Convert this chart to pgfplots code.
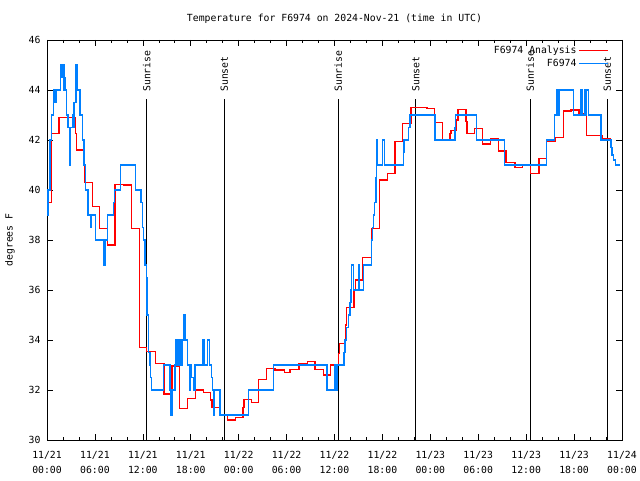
\documentclass[border=0pt]{standalone}
\usepackage{fontspec}
\setmainfont{DejaVu Sans Mono}
\usepackage{pgfplots}
\usepackage{pgfplotstable}
\pgfplotsset{compat=1.18}
\definecolor{obsblue}{RGB}{0,128,255}
\definecolor{anared}{RGB}{255,0,0}

\pgfplotstableread{
h t
0 39.5
0.55 42.25
1.5 42.9
3.6 42.25
3.72 41.6
4.72 40.3
5.68 39.35
6.55 38.47
7.55 37.8
8.52 40.23
9.55 40.2
10.56 38.45
11.56 33.7
12.48 33.53
13.6 33.07
14.65 31.84
15.65 32.96
16.57 31.27
17.57 31.67
18.57 32.0
19.57 31.9
20.5 31.6
20.66 31.3
21.66 31.03
22.58 30.8
23.58 30.9
24.55 31.3
24.65 31.63
25.6 31.5
26.46 32.43
27.5 32.87
28.55 32.8
29.7 32.7
30.43 32.83
31.55 33.07
32.6 33.13
33.56 32.83
34.6 32.6
35.52 33.0
36.5 33.47
36.6 33.87
37.4 34.6
37.5 35.3
38.44 36.0
38.6 36.4
39.53 37.3
40.66 38.47
41.6 40.4
42.6 40.67
43.58 41.93
44.54 42.67
45.58 43.3
47.6 43.27
48.5 42.7
49.5 42.03
50.47 42.27
50.6 42.37
51.3 42.8
51.45 43.23
52.47 42.73
52.6 42.27
53.5 42.47
54.55 41.84
55.55 42.07
56.5 41.56
57.47 41.1
58.6 40.9
59.5 41.03
60.56 40.67
61.6 41.27
62.57 41.93
63.6 42.1
64.65 43.16
65.6 43.2
66.6 43.07
67.58 42.17
69.5 42.07
70.6 42.07
}\analysis

\pgfplotstableread{
h t
0 39
0.125 40
0.376 42
0.54 43
0.79 44
0.9 43.5
1.0 44
1.1 43.5
1.13 44
1.71 45
1.88 44.5
1.96 45
2.13 44
2.21 44.5
2.34 44
2.46 43
2.63 42.5
2.84 41
2.96 42.5
3.17 43
3.3 42.5
3.38 43.5
3.63 45
3.84 44
4.13 43
4.42 42
4.63 41
4.84 40
5.13 39
5.47 38.5
5.59 39
6.09 38
7.14 37
7.26 38
7.55 39
8.3 39.5
8.47 40
9.22 41
11.1 40
11.77 39.5
11.94 38.5
12.06 38
12.27 37
12.44 36.5
12.52 35
12.69 33.5
12.9 33
13.0 32.5
13.05 32
14.57 33
15.4 32
15.53 31
15.74 32
16.03 33
16.15 34
16.25 33
16.35 34
16.45 33
16.55 34
16.65 33
16.75 34
16.85 33
16.95 34
17.15 35
17.36 34
17.61 33
17.82 32
17.99 33
18.11 32.5
18.32 32
18.53 33
19.45 34
19.66 33
20.12 34
20.33 33
20.62 32.5
20.75 32
20.83 31
20.95 32
21.65 31
25.2 32
28.34 33
35.05 32
36.06 33
36.15 32.5
36.22 33
36.3 32
36.36 33
37.19 33.5
37.32 34
37.52 34.5
37.73 35
37.94 35.5
38.06 36
38.15 37
38.36 36
38.98 37
39.11 36
39.61 37
40.65 38
40.78 38.5
40.9 39
40.99 39.5
41.2 40.5
41.28 42
41.41 41
41.99 42
42.24 41
44.62 41.5
44.7 42
45.24 42.5
45.45 43
48.58 42
51.09 42.5
51.17 43
53.8 42
57.27 41
62.57 42
63.53 43
63.82 44
63.9 43
63.95 44
64.02 43
64.07 44
64.14 43
64.2 44
65.91 43
66.87 44
66.99 43
67.29 44
67.45 43
67.58 44
67.79 43
69.37 42
70.62 41.7
70.75 41.4
70.9 41.2
71.17 41
71.75 41
}\observed

\begin{document}
\fontsize{9.8pt}{12pt}\selectfont
\begin{tikzpicture}
\path[use as bounding box] (0,0) rectangle (640pt,480pt);
\begin{axis}[
  at={(47pt,40pt)}, anchor=south west,
  scale only axis, width=575pt, height=400pt,
  xmin=0, xmax=72, ymin=30, ymax=46,
  xtick={0,6,...,72},
  xticklabels={{11/21\\00:00},{11/21\\06:00},{11/21\\12:00},{11/21\\18:00},{11/22\\00:00},{11/22\\06:00},{11/22\\12:00},{11/22\\18:00},{11/23\\00:00},{11/23\\06:00},{11/23\\12:00},{11/23\\18:00},{11/24\\00:00}},
  xticklabel style={align=center, font=\fontsize{9.8pt}{15pt}\selectfont, yshift=-8pt},
  minor x tick num=2,
  ytick={30,32,...,46},
  yticklabel style={font=\fontsize{9.8pt}{12pt}\selectfont, xshift=-3pt},
  /pgf/number format/assume math mode=true,
  tick align=inside,
  major tick length=6pt, minor tick length=3pt,
  tick style={black, line width=0.6pt},
  axis line style={line width=0.8pt},
  legend plot pos=right,
  legend cell align=right,
  legend image code/.code={\draw[#1] (0pt,0pt) -- (29pt,0pt);},
  legend style={at={(rel axis cs:1,1)}, anchor=north east, xshift=-10pt, yshift=-2pt,
    draw=none, fill=none, font=\fontsize{9.8pt}{12pt}\selectfont, row sep=0pt},
  clip=false,
]
\addplot[black, line width=1pt, forget plot] coordinates {(12.48,30) (12.48,43.64)};
\addplot[black, line width=1pt, forget plot] coordinates {(22.2,30) (22.2,43.64)};
\addplot[black, line width=1pt, forget plot] coordinates {(36.48,30) (36.48,43.64)};
\addplot[black, line width=1pt, forget plot] coordinates {(46.17,30) (46.17,43.64)};
\addplot[black, line width=1pt, forget plot] coordinates {(60.52,30) (60.52,43.64)};
\addplot[black, line width=1pt, forget plot] coordinates {(70.16,30) (70.16,43.64)};
\addplot[const plot, draw=anared, line width=1.3pt, mark=none] table[x=h, y=t] {\analysis};
\addplot[const plot, draw=obsblue, line width=1.3pt, mark=none] table[x=h, y=t] {\observed};
\legend{F6974 Analysis, F6974}
\node[rotate=90, anchor=west, inner sep=0pt] at (axis cs:12.48,43.92) {Sunrise};
\node[rotate=90, anchor=west, inner sep=0pt] at (axis cs:22.2,43.92) {Sunset};
\node[rotate=90, anchor=west, inner sep=0pt] at (axis cs:36.48,43.92) {Sunrise};
\node[rotate=90, anchor=west, inner sep=0pt] at (axis cs:46.17,43.92) {Sunset};
\node[rotate=90, anchor=west, inner sep=0pt] at (axis cs:60.52,43.92) {Sunrise};
\node[rotate=90, anchor=west, inner sep=0pt] at (axis cs:70.16,43.92) {Sunset};
\node at ([yshift=21pt]rel axis cs:0.5,1) {Temperature for F6974 on 2024-Nov-21 (time in UTC)};
\node[rotate=90] at ([xshift=-37pt]rel axis cs:0,0.5) {degrees F};
\end{axis}
\end{tikzpicture}
\end{document}
